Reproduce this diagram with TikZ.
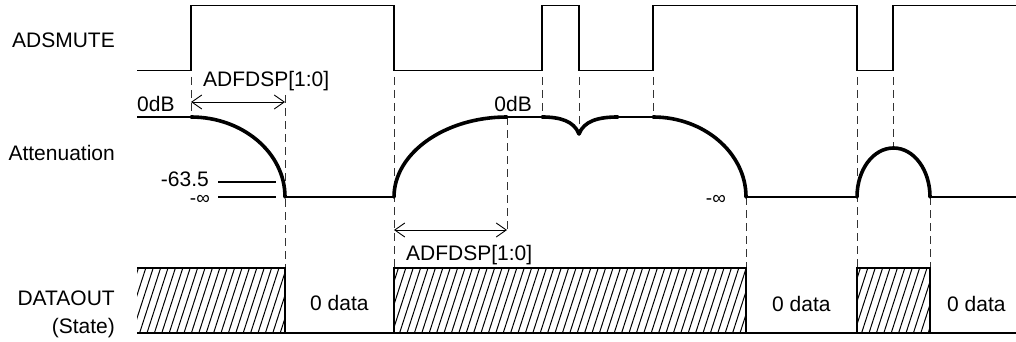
\documentclass[tikz,border=0pt]{standalone}
\usepackage{fontspec}
\setmainfont{Liberation Sans}
\usetikzlibrary{arrows.meta}
\begin{document}
\begin{tikzpicture}[x=1pt,y=-1pt,
  thinline/.style={line width=1.1pt},
  thickline/.style={line width=3.6pt,line cap=round,line join=round},
  guide/.style={line width=0.9pt,dash pattern=on 8pt off 5pt,black!80},
  dimarrow/.style={line width=0.9pt,{Straight Barb[length=10pt,width=14pt,line width=0.9pt]}-{Straight Barb[length=10pt,width=14pt,line width=0.9pt]}},
  lbl/.style={inner sep=0pt,font=\fontsize{21}{25}\selectfont},
  inflbl/.style={inner sep=0pt,text height=9pt,text depth=0pt,font=\fontsize{19}{23}\selectfont},
  hatch/.style={line width=1pt}]
\useasboundingbox (0,0) rectangle (1016,342);

% labels
\node[lbl,anchor=base east] (tADS) at (115,48) {ADSMUTE};
\node[lbl,anchor=base east] (tATT) at (115,160) {Attenuation};
\node[lbl,anchor=base east] (tDAT) at (115,305) {DATAOUT};
\node[lbl,anchor=base east] (tST) at (115,333) {(State)};

% ADSMUTE waveform
\draw[thinline] (137,70.5) -- (191,70.5) -- (191,5.5) -- (394,5.5) -- (394,70.5) -- (542,70.5) -- (542,5.5) -- (579,5.5) -- (579,70.5) -- (653,70.5) -- (653,5.5) -- (857,5.5) -- (857,70.5) -- (893,70.5) -- (893,5.5) -- (1016,5.5);

% guides
\draw[guide] (191,77) -- (191,117);
\draw[guide] (285,95) -- (285,268);
\draw[guide] (394,77) -- (394,268);
\draw[guide] (507,117) -- (507,230);
\draw[guide] (542,77) -- (542,117);
\draw[guide] (579,77) -- (579,132);
\draw[guide] (653,77) -- (653,117);
\draw[guide] (746,197) -- (746,268);
\draw[guide] (857,77) -- (857,268);
\draw[guide] (893,77) -- (893,148);
\draw[guide] (930,197) -- (930,268);

% dimension arrows
\coordinate (a1) at (191,102);
\coordinate (a2) at (285,102);
\coordinate (b1) at (394,230);
\coordinate (b2) at (507,230);
\draw[dimarrow] (a1) -- (a2);
\draw[dimarrow] (b1) -- (b2);
\node[lbl,anchor=base west] (tADF1) at (203,87) {ADFDSP[1:0]};
\node[lbl,anchor=base west] (tADF2) at (406,260) {ADFDSP[1:0]};

% attenuation thin lines
\draw[thinline] (137,117) -- (191,117);
\draw[thinline] (285,197) -- (394,197);
\draw[thinline] (507,117) -- (542,117);
\draw[thinline] (618,117) -- (653,117);
\draw[thinline] (746,197) -- (857,197);
\draw[thinline] (930,197) -- (1016,197);
\draw[thinline] (218,182) -- (276,182);
\draw[thinline] (218,197) -- (276,197);

% attenuation curves
\draw[thickline] (191,117) .. controls (243,117) and (285,153) .. (285,197);
\draw[thickline] (394,197) .. controls (394,153) and (445,117) .. (507,117);
\draw[thickline] (542,117) .. controls (560,117) and (574,121) .. (579,134) .. controls (584,121) and (598,117) .. (618,117);
\draw[thickline] (653,117) .. controls (704,117) and (746,153) .. (746,197);
\draw[thickline] (857,197) .. controls (857,170) and (873,148) .. (893.5,148) .. controls (914,148) and (930,170) .. (930,197);

% attenuation labels
\node[lbl,anchor=base west] (t0dB1) at (137,112) {0dB};
\node[lbl,anchor=base east] (t0dB2) at (532,111) {0dB};
\node[lbl,anchor=base east] (t635) at (209,186) {-63.5};
\node[inflbl,anchor=base east] (tinf1) at (210,204.5) {-∞};
\node[inflbl,anchor=base east] (tinf2) at (726,204.5) {-∞};

% DATAOUT hatching
\begin{scope}
\clip (137,268) rectangle (285,333);
\foreach \x in {110,117.4,...,290} \draw[hatch] (\x,333) -- (\x+21,268);
\end{scope}
\begin{scope}
\clip (394,268) rectangle (746,333);
\foreach \x in {370,377.4,...,750} \draw[hatch] (\x,333) -- (\x+21,268);
\end{scope}
\begin{scope}
\clip (857,268) rectangle (930,333);
\foreach \x in {832,839.4,...,935} \draw[hatch] (\x,333) -- (\x+21,268);
\end{scope}
\draw[thinline] (137,268) -- (285,268) -- (285,333);
\draw[thinline] (394,333) -- (394,268) -- (746,268) -- (746,333);
\draw[thinline] (857,333) -- (857,268) -- (930,268) -- (930,333);
\draw[thinline] (137,333) -- (1016,333);

\node[lbl,anchor=base west] (td1) at (310,310) {0 data};
\node[lbl,anchor=base west] (td2) at (772,311) {0 data};
\node[lbl,anchor=base west] (td3) at (947,311) {0 data};
\end{tikzpicture}
\end{document}
